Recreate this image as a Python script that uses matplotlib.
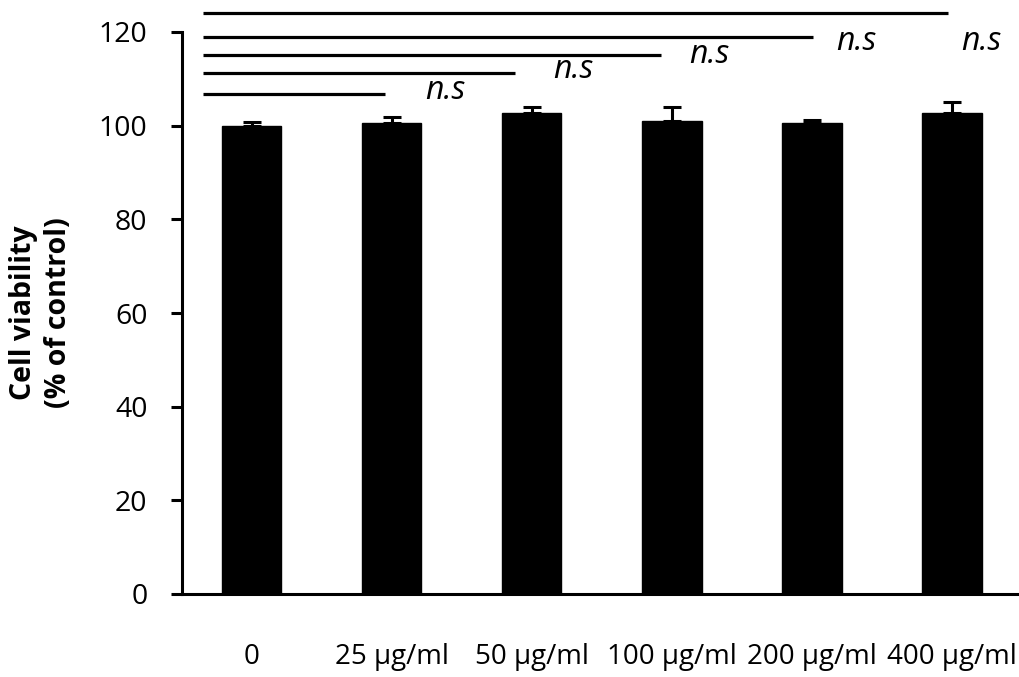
import matplotlib
matplotlib.use("Agg")
import matplotlib.pyplot as plt
import numpy as np

# ---- data ----
categories = ["0", "25 \u00b5g/ml", "50 \u00b5g/ml", "100 \u00b5g/ml", "200 \u00b5g/ml", "400 \u00b5g/ml"]
viability = [100.0, 100.5, 102.6, 101.1, 100.6, 102.6]
errors = [0.8, 1.3, 1.3, 2.8, 0.6, 2.4]
yticks = [0, 20, 40, 60, 80, 100, 120]

# significance comparisons of each dose vs control (0)
sig_labels = ["n.s", "n.s", "n.s", "n.s", "n.s"]
sig_line_y = [106.8, 111.3, 115.1, 118.9, 124.1]
sig_line_end = [0.954, 1.88, 2.92, 4.01, 4.975]
sig_text_x = [1.38, 2.30, 3.27, 4.32, 5.21]
sig_text_y = [105.7, 110.2, 113.4, 116.2, 116.2]

plt.rcParams['font.family'] = ['Open Sans', 'DejaVu Sans']

fig = plt.figure(figsize=(10.19, 6.77), dpi=100)
ax = fig.add_axes([181.5 / 1019, 1 - 594 / 677, 840.5 / 1019, (594 - 32) / 677])

x = np.arange(len(categories))
ax.bar(x, viability, width=0.425, color='black', edgecolor='black', linewidth=1, zorder=2)
ax.errorbar(x, viability, yerr=[np.zeros(len(errors)), errors], fmt='none',
            ecolor='black', elinewidth=2.2, capsize=6.5, capthick=2.2, zorder=3)

ax.set_xlim(-0.5, len(categories) - 0.5)
ax.set_ylim(0, 120)
ax.set_yticks(yticks)
ax.set_xticks(x)
ax.set_xticklabels(categories)

for s in ['top', 'right']:
    ax.spines[s].set_visible(False)
for s in ['left', 'bottom']:
    ax.spines[s].set_linewidth(2.2)

ax.tick_params(axis='x', length=0, pad=35, labelsize=20)
ax.tick_params(axis='y', length=8, width=2.2, pad=16.5, labelsize=20.5, direction='out')

ax.set_ylabel("Cell viability\n(% of control)", fontsize=20.5, fontweight='bold',
              linespacing=1.3, va='center')
ax.yaxis.set_label_coords((41 - 181.5) / 840.5, 0.5)

start = -0.346
for ly, le in zip(sig_line_y, sig_line_end):
    ax.plot([start, le], [ly, ly], color='black', lw=2.3, clip_on=False,
            solid_capstyle='butt', zorder=4)
for tx, ty, lab in zip(sig_text_x, sig_text_y, sig_labels):
    ax.text(tx, ty, lab, fontsize=23, style='italic', ha='center', va='baseline',
            clip_on=False)

fig.savefig("out.png", dpi=100)
